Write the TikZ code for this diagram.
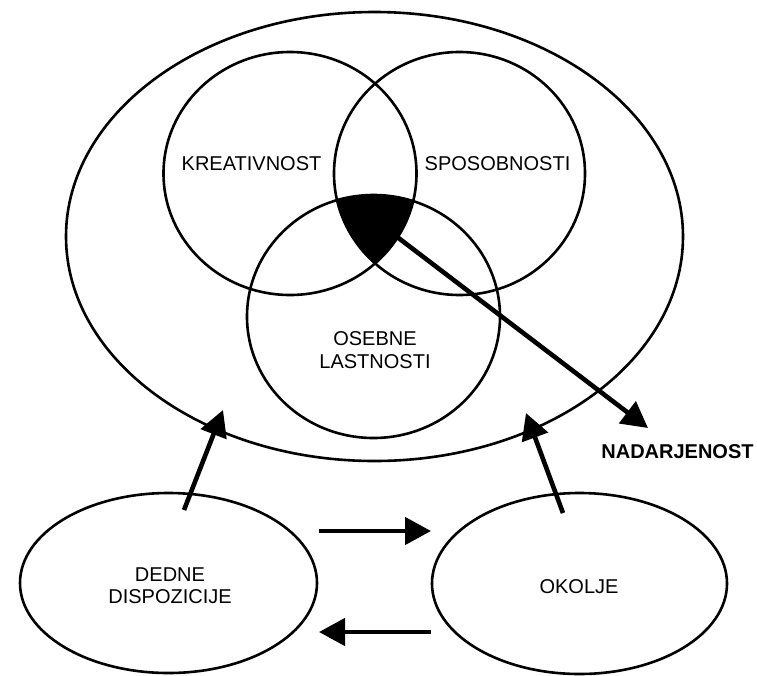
\documentclass[tikz,border=0pt]{standalone}
\usepackage{fontspec}
\setmainfont{Liberation Sans}
\usetikzlibrary{shapes.geometric,arrows.meta}
\begin{document}
\begin{tikzpicture}[x=1pt,y=-1pt,
  outl/.style={draw, line width=2.6pt, ellipse, inner sep=0pt, outer sep=0pt},
  lbl/.style={font=\fontsize{20}{23}\selectfont, inner sep=0pt, align=center},
  arr/.style={line width=4.6pt, -{Triangle[length=26pt,width=27pt]}}]
\useasboundingbox (0,0) rectangle (757,675);
\fill[white] (0,0) rectangle (757,675);
% black intersection of the three circles
\begin{scope}
  \clip (290,173.5) ellipse [x radius=126.5pt, y radius=121.5pt];
  \clip (459.5,173.5) ellipse [x radius=125.5pt, y radius=121.5pt];
  \fill[black] (373.5,316.5) ellipse [x radius=126.5pt, y radius=121.5pt];
\end{scope}
% outlines
\node[outl, minimum width=617pt, minimum height=449pt] (big) at (374.5,236.5) {};
\node[outl, minimum width=253pt, minimum height=243pt] (kre) at (290,173.5) {};
\node[outl, minimum width=251pt, minimum height=243pt] (spo) at (459.5,173.5) {};
\node[outl, minimum width=253pt, minimum height=243pt] (ose) at (373.5,316.5) {};
\node[outl, minimum width=297pt, minimum height=180pt] (ded) at (168.5,583) {};
\node[outl, minimum width=295pt, minimum height=181pt] (oko) at (579.5,583.5) {};
% labels
\node[lbl] (tkre) at (251.5,164) {KREATIVNOST};
\node[lbl] (tspo) at (497.5,164) {SPOSOBNOSTI};
\node[lbl] (tose) at (375,350.5) {OSEBNE\\LASTNOSTI};
\node[lbl, font=\fontsize{20}{23}\selectfont\bfseries] (tnad) at (677.5,452) {NADARJENOST};
\node[lbl, font=\fontsize{20}{22}\selectfont] (tded) at (170,586) {DEDNE\\DISPOZICIJE};
\node[lbl] (toko) at (579,587) {OKOLJE};
% connector end points
\coordinate (core) at (388,230);
\coordinate (nadtip) at (648,428);
\coordinate (dedtail) at (184,510);
\coordinate (dedtip) at (223,410);
\coordinate (okotail) at (563,513);
\coordinate (okotip) at (526,413);
\coordinate (ra1) at (319,531);
\coordinate (ra2) at (431,531);
\coordinate (la1) at (431,632);
\coordinate (la2) at (319,632);
% connectors
\draw[arr] (core) -- (nadtip);
\draw[arr] (dedtail) -- (dedtip);
\draw[arr] (okotail) -- (okotip);
\draw[arr] (ra1) -- (ra2);
\draw[arr] (la1) -- (la2);
\end{tikzpicture}
\end{document}
